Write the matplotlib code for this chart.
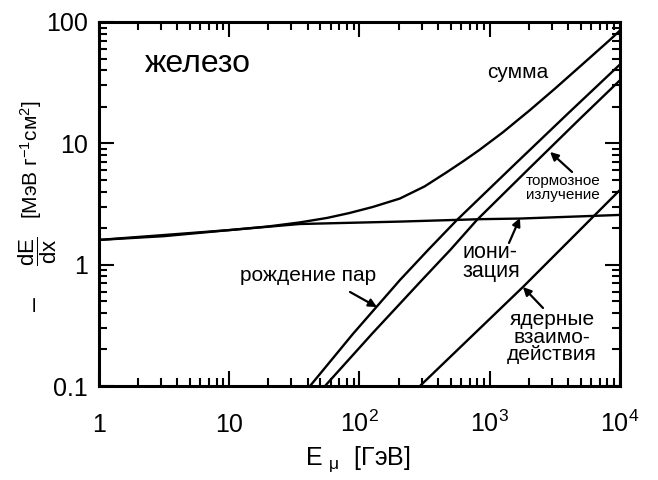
import numpy as np
import matplotlib.pyplot as plt
from matplotlib.ticker import FixedLocator, LogLocator, NullFormatter

plt.rcParams['font.family'] = ['Liberation Sans', 'DejaVu Sans']
plt.rcParams['mathtext.fontset'] = 'custom'
plt.rcParams['mathtext.rm'] = 'Liberation Sans'
plt.rcParams['mathtext.it'] = 'Liberation Sans'

# curves (log10 E, log10 dE/dx)
ion_logE = [0.0, 1.0, 1.54, 2.31, 2.93, 3.23, 4.0]
ion_logy = [0.204, 0.285, 0.335, 0.355, 0.375, 0.38, 0.41]

sum_logE = [0.0, 0.5, 1.0, 1.3, 1.54, 1.75, 1.92, 2.1, 2.31, 2.5, 2.67, 2.8,
            2.92, 3.1, 3.31, 3.5, 3.7, 3.92, 4.0]
sum_logy = [0.204, 0.235, 0.285, 0.315, 0.348, 0.385, 0.425, 0.475, 0.545, 0.645, 0.762, 0.855,
            0.945, 1.09, 1.275, 1.45, 1.64, 1.85, 1.93]

pair_logE = [1.62, 1.95, 2.311, 2.53, 2.749, 3.2, 3.6, 4.0]
pair_logy = [-1.0, -0.57, -0.126, 0.125, 0.369, 0.835, 1.245, 1.65]

brems_logE = [1.735, 2.1, 2.48, 2.7, 2.902, 3.3, 3.7, 4.0]
brems_logy = [-1.0, -0.565, -0.126, 0.125, 0.369, 0.79, 1.21, 1.52]

nucl_logE = [2.464, 3.255, 4.0]
nucl_logy = [-1.0, -0.184, 0.616]

xticks = [1, 10, 100, 1000, 10000]
xtick_labels = ['1', '10', '$10^2$', '$10^3$', '$10^4$']
yticks = [0.1, 1, 10, 100]
ytick_labels = ['0.1', '1', '10', '100']


def pw(logx, logy):
    return 10 ** np.array(logx), 10 ** np.array(logy)


W, H = 658, 480
fig = plt.figure(figsize=(W / 100, H / 100), dpi=100)
ax = fig.add_axes([0.1505, 0.1958, 0.7917, 0.7584])

for lx, ly in [(ion_logE, ion_logy), (sum_logE, sum_logy), (pair_logE, pair_logy),
               (brems_logE, brems_logy), (nucl_logE, nucl_logy)]:
    x, y = pw(lx, ly)
    ax.plot(x, y, color='black', lw=1.7, solid_joinstyle='round')

ax.set_xscale('log')
ax.set_yscale('log')
ax.set_xlim(1, 1e4)
ax.set_ylim(0.1, 100)

ax.xaxis.set_major_locator(FixedLocator(xticks))
ax.set_xticklabels(xtick_labels)
ax.yaxis.set_major_locator(FixedLocator(yticks))
ax.set_yticklabels(ytick_labels)
ax.xaxis.set_minor_locator(LogLocator(base=10, subs=np.arange(2, 10)))
ax.yaxis.set_minor_locator(LogLocator(base=10, subs=np.arange(2, 10)))
ax.xaxis.set_minor_formatter(NullFormatter())
ax.yaxis.set_minor_formatter(NullFormatter())

ax.tick_params(which='both', direction='in', top=True, right=True, width=1.5)
ax.tick_params(which='major', length=11, labelsize=18)
ax.tick_params(axis='x', which='major', pad=33)
ax.tick_params(axis='y', which='major', pad=8)
ax.tick_params(which='minor', length=6)
for sp in ax.spines.values():
    sp.set_linewidth(2.2)

# axis titles placed by hand, as in the scan
fig.text(358 / W, 1 - 459 / H, r'E$\ {}_{\mu}\ $ [ГэВ]', fontsize=18, ha='center', va='center')
fig.text(31 / W, 1 - 160 / H, r'[МэВ г$^{-1}$см$^{2}$]', fontsize=15, rotation=90,
         ha='center', va='center')
fig.text(38 / W, 1 - 251 / H, r'$\dfrac{dE}{dx}$', fontsize=16, rotation=90,
         ha='center', va='center')
fig.text(35 / W, 1 - 304 / H, '–', fontsize=18, rotation=90, ha='center', va='center')

# annotations
ax.text(2.26, 45, 'железо', fontsize=23, va='center', ha='left')
ax.text(1650, 38, 'сумма', fontsize=15, va='center', ha='center')
ax.text(3650, 4.3, 'тормозное\nизлучение', fontsize=11, va='center', ha='center', linespacing=1.0)
ax.text(12.1, 0.82, 'рождение пар', fontsize=15, va='center', ha='left')
ax.text(623, 1.05, 'иони-\nзация', fontsize=15.5, va='center', ha='left', linespacing=0.9)
ax.text(3007, 0.253, 'ядерные\nвзаимо-\nдействия', fontsize=15, va='center', ha='center', linespacing=0.9)

arrow = dict(arrowstyle='-|>', color='black', lw=1.6, mutation_scale=12, shrinkA=0, shrinkB=0)
ax.annotate('', xy=(10 ** 2.134, 10 ** -0.349), xytext=(10 ** 1.927, 10 ** -0.225), arrowprops=arrow)
ax.annotate('', xy=(10 ** 3.463, 10 ** 0.929), xytext=(10 ** 3.632, 10 ** 0.764), arrowprops=arrow)
ax.annotate('', xy=(10 ** 3.232, 10 ** 0.385), xytext=(10 ** 3.148, 10 ** 0.179), arrowprops=arrow)
ax.annotate('', xy=(10 ** 3.255, 10 ** -0.184), xytext=(10 ** 3.409, 10 ** -0.357), arrowprops=arrow)

plt.setp(ax.get_xticklabels(), va='baseline')

fig.savefig('out.png', dpi=100)
